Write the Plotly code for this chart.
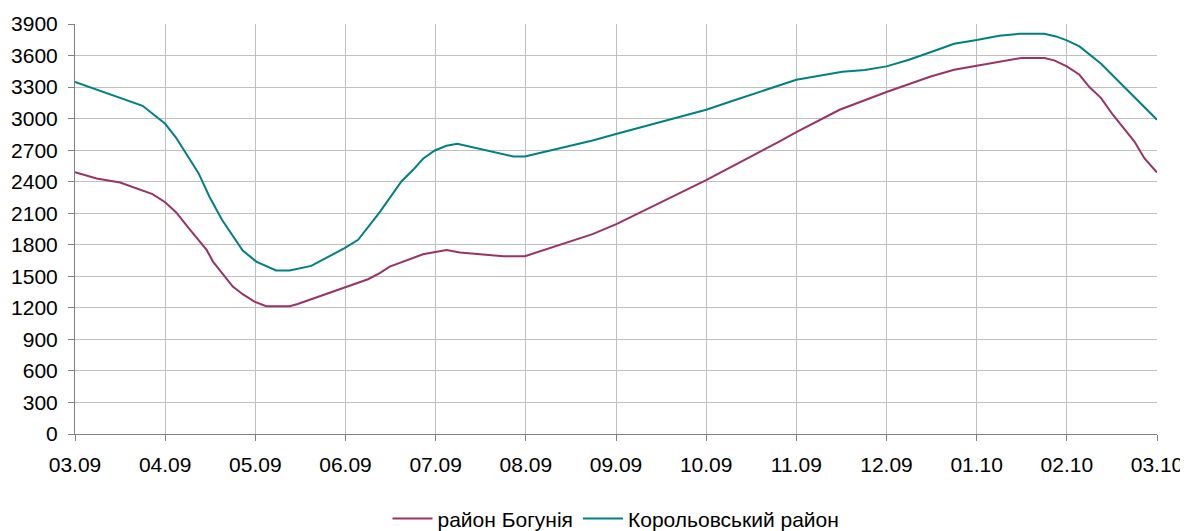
import plotly.graph_objects as go

# x positions in months since 03.09 (0 = 03.09, 12 = 03.10)
tick_labels = ["03.09", "04.09", "05.09", "06.09", "07.09", "08.09", "09.09",
               "10.09", "11.09", "12.09", "01.10", "02.10", "03.10"]

bogunia_x = [0, 0.24, 0.5, 0.86, 1.0, 1.12, 1.27, 1.46, 1.53, 1.75, 1.86, 1.99,
             2.12, 2.38, 2.47, 2.60, 2.99, 3.25, 3.38, 3.49, 3.86, 4.12, 4.27,
             4.75, 4.99, 5.23, 5.74, 6.01, 7.0, 7.81, 8.0, 8.48, 9.0, 9.49,
             9.75, 10.0, 10.49, 10.75, 10.86, 11.0, 11.14, 11.25, 11.38, 11.51,
             11.75, 11.86, 12.0]
bogunia_y = [2490, 2430, 2392, 2282, 2205, 2110, 1948, 1751, 1640, 1402, 1330, 1259,
             1215, 1215, 1237, 1276, 1387, 1472, 1530, 1592, 1710, 1749, 1726,
             1691, 1691, 1758, 1901, 1999, 2415, 2782, 2872, 3084, 3253, 3401,
             3465, 3503, 3576, 3576, 3554, 3497, 3417, 3300, 3195, 3037,
             2782, 2624, 2487]

korolov_x = [0, 0.75, 1.0, 1.12, 1.37, 1.49, 1.63, 1.86, 2.01, 2.23, 2.38, 2.62,
             2.99, 3.14, 3.38, 3.62, 3.75, 3.86, 3.99, 4.12, 4.24, 4.45, 4.86,
             4.99, 5.23, 5.74, 6.01, 6.52, 7.0, 7.33, 7.81, 8.0, 8.51, 8.76,
             9.0, 9.25, 9.51, 9.75, 10.0, 10.25, 10.49, 10.75, 10.88, 11.0,
             11.14, 11.38, 12.0]
korolov_y = [3350, 3122, 2951, 2820, 2481, 2259, 2037, 1746, 1640, 1555, 1555, 1599,
             1768, 1847, 2110, 2402, 2513, 2618, 2697, 2741, 2760, 2720, 2640,
             2640, 2687, 2792, 2856, 2973, 3084, 3179, 3316, 3370, 3446, 3462,
             3497, 3560, 3639, 3712, 3747, 3789, 3808, 3808, 3782, 3744,
             3687, 3522, 2989]

y_ticks = list(range(0, 3901, 300))

fig = go.Figure()
fig.add_trace(go.Scatter(x=bogunia_x, y=bogunia_y, mode="lines", name="район Богунія",
                         line=dict(color="#993366", width=2)))
fig.add_trace(go.Scatter(x=korolov_x, y=korolov_y, mode="lines", name="Корольовський район",
                         line=dict(color="#008080", width=2)))

font = dict(family="Liberation Sans, Arial, sans-serif", size=21, color="#000000")

# the page body has an 8px margin, so the figure is sized/offset to compensate
fig.update_layout(
    width=1180, height=523,
    margin=dict(l=67, r=31, t=16, b=97, autoexpand=False),
    paper_bgcolor="white", plot_bgcolor="white",
    font=font,
    showlegend=True,
    legend=dict(orientation="h", x=0.5, xanchor="center", y=-0.207, yanchor="middle",
                font=font, itemwidth=40, traceorder="normal"),
)
fig.update_xaxes(
    range=[0, 12], tickmode="array", tickvals=list(range(13)), ticktext=tick_labels,
    showgrid=True, gridcolor="#c0c0c0", gridwidth=1,
    showline=True, linecolor="#808080", linewidth=1,
    ticks="outside", ticklen=6, tickcolor="#808080",
    ticklabelstandoff=6, zeroline=False, automargin=False,
)
fig.update_yaxes(
    range=[0, 3900], tickmode="array", tickvals=y_ticks,
    showgrid=True, gridcolor="#c0c0c0", gridwidth=1,
    showline=True, linecolor="#808080", linewidth=1,
    ticks="outside", ticklen=6, tickcolor="#808080",
    ticklabelstandoff=6, zeroline=False, automargin=False,
)

fig.write_html("out.html")
